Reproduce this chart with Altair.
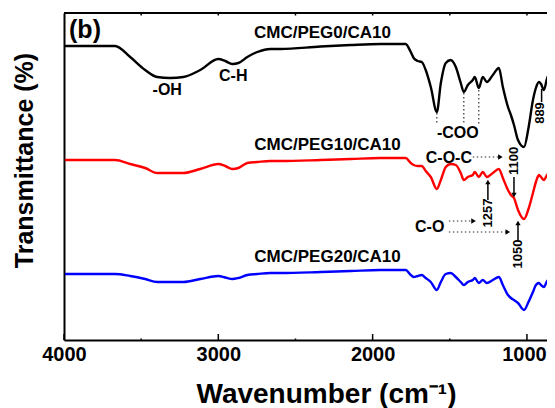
import altair as alt
import pandas as pd

# ---- data ----
wavenumber = [3994, 3669, 3571, 3474, 3396, 3312, 3227, 3117, 3000, 2955, 2909, 2870,
              2812, 2747, 2662, 2597, 2338, 2143, 1948, 1786, 1753, 1734, 1708, 1682,
              1656, 1623, 1584, 1558, 1526, 1494, 1461, 1429, 1409, 1383, 1351, 1338,
              1312, 1286, 1260, 1221, 1182, 1156, 1123, 1104, 1084, 1058, 1019, 990,
              961, 942, 922, 909, 890, 864, 831, 812]
peg0 = [294, 294, 283, 270, 263, 262, 263, 270, 281, 279, 276, 277,
        283, 288, 291, 291, 293.5, 295, 296, 296, 288, 282, 279, 278,
        270, 253, 228, 257, 277, 280, 273, 257, 248, 255, 260, 263,
        252, 263, 258, 265, 272, 253, 233, 225, 215, 200, 193, 212,
        240, 252, 258, 256, 250, 264, 262, 258]
peg10 = [180, 180, 176, 172, 167, 167, 167, 171, 176, 174, 171, 172,
         177, 178, 179, 179, 180, 181, 182, 182, 177, 175, 174, 174,
         169, 163, 151, 160, 173, 176, 175, 167, 160, 163, 165, 168,
         163, 168, 163, 167, 171, 162, 150, 145, 142, 130, 121, 131,
         147, 158, 165, 163, 160, 166, 164, 163]
peg20 = [66, 66, 64, 61, 58, 58, 58, 61, 64, 62.5, 61, 62,
         65, 66, 67, 67, 68, 69, 70, 70, 65, 63, 64, 65,
         62, 58, 50, 58, 66, 67, 63, 58, 55, 58, 60, 62,
         57, 60, 57, 60, 63, 55, 45, 42, 40, 37, 30, 38,
         48, 55, 57, 55, 53, 60, 58, 58]
series_names = ["CMC/PEG0/CA10", "CMC/PEG10/CA10", "CMC/PEG20/CA10"]
series_colors = ["#000000", "#ff0000", "#0000ff"]

curve_label_x = [2325, 2292, 2292]
curve_label_y = [307, 195, 83]

band_text = ["-OH", "C-H", "-COO", "C-O-C", "C-O"]
band_x = [3331, 2903, 1448, 1506, 1630]
band_y = [250, 264, 207, 182, 113]

peak_text = ["889", "1100", "1257", "1050"]
peak_x = [918, 1084, 1253, 1058]
peak_y = [227, 179, 127, 86]

panel_text = ["(b)"]
panel_x = [3864]
panel_y = [310]

dot_x = [1584, 1409, 1312, 1351, 1506, 1506]
dot_x2 = [1584, 1409, 1312, 1178, 1352, 1130]
dot_y = [227, 247, 250, 183, 119, 108]
dot_y2 = [215, 215, 215, 183, 119, 108]

lead_x = [905, 1084, 1253, 1058]
lead_y = [251, 163, 140, 100]
lead_y2 = [238, 146, 158, 117]

head_x = [1172, 1346, 1124, 1084, 1253, 1058]
head_y = [183, 119, 108, 145, 158, 117]
head_shape = ["triangle-right", "triangle-right", "triangle-right",
              "triangle-down", "triangle-up", "triangle-up"]

major_ticks = [4000, 3000, 2000, 1000]
minor_ticks = [3500, 2500, 1500]
top_ticks = [3500, 3000, 2500, 2000, 1500, 1000]

# ---- tables ----
rows = []
for name, vals in zip(series_names, [peg0, peg10, peg20]):
    for w, v in zip(wavenumber, vals):
        rows.append({"wn": w, "T": v, "sample": name})
spectra = pd.DataFrame(rows)

FONT = "Liberation Sans"
XTITLE = "Wavenumber (cm\u207b\u00b9)"
YTITLE = "Transmittance (%)"
X_END = 870
xs = alt.Scale(domain=[4000, X_END], nice=False, zero=False)
ys = alt.Scale(domain=[0, 327], nice=False, zero=False)

x_axis = alt.Axis(values=major_ticks, format="d", grid=False, ticks=False, tickSize=0,
                  domainColor="black", domainWidth=2,
                  labelFont=FONT, labelFontSize=20, labelFontWeight="bold",
                  labelColor="black", labelPadding=4, labelFlush=False,
                  labelOffset=alt.ExprRef("datum.value == 1000 ? -3 : 0"),
                  titleFont=FONT, titleFontSize=28, titleFontWeight="bold",
                  titleColor="black", titleBaseline="alphabetic", titleY=62,
                  titleX=262, titleAnchor="middle", titleAlign="center")
y_axis = alt.Axis(labels=False, ticks=False, grid=False,
                  domainColor="black", domainWidth=2,
                  titleFont=FONT, titleFontSize=25, titleFontWeight="bold",
                  titleColor="black", titleAngle=270, titleBaseline="middle",
                  titleAlign="center", titleX=-40, titleY=147, titleAnchor="middle")


def xq(field):
    return alt.X(f"{field}:Q", scale=xs, axis=x_axis, title=XTITLE)


def yq(field):
    return alt.Y(f"{field}:Q", scale=ys, axis=y_axis, title=YTITLE)


lines = alt.Chart(spectra).mark_line(strokeWidth=2.4, clip=True, interpolate="monotone").encode(
    x=xq("wn"), y=yq("T"),
    color=alt.Color("sample:N", scale=alt.Scale(domain=series_names, range=series_colors),
                    legend=None),
    detail="sample:N",
)

tick_df = pd.DataFrame({"wn": major_ticks + minor_ticks + top_ticks,
                        "y0": [0] * 4 + [0] * 3 + [327] * 6,
                        "y1": [6] * 4 + [1.5] * 3 + [324.5] * 6})
ticks = alt.Chart(tick_df).mark_rule(color="black", strokeWidth=1.5).encode(
    x=xq("wn"), y=yq("y0"), y2="y1")

frame_df = pd.DataFrame({"a": [4000], "b": [X_END], "y": [327]})
top_frame = alt.Chart(frame_df).mark_rule(color="black", strokeWidth=2).encode(
    x=xq("a"), x2="b", y=yq("y"))

curve_lab = alt.Chart(pd.DataFrame({"wn": curve_label_x, "T": curve_label_y, "t": series_names})).mark_text(
    font=FONT, fontSize=17, fontWeight="bold", color="black").encode(
    x=xq("wn"), y=yq("T"), text="t:N")

band_lab = alt.Chart(pd.DataFrame({"wn": band_x, "T": band_y, "t": band_text})).mark_text(
    font=FONT, fontSize=16, fontWeight="bold", color="black").encode(
    x=xq("wn"), y=yq("T"), text="t:N")

peak_lab = alt.Chart(pd.DataFrame({"wn": peak_x, "T": peak_y, "t": peak_text})).mark_text(
    font=FONT, fontSize=13, fontWeight="bold", color="black", angle=270).encode(
    x=xq("wn"), y=yq("T"), text="t:N")

panel_lab = alt.Chart(pd.DataFrame({"wn": panel_x, "T": panel_y, "t": panel_text})).mark_text(
    font=FONT, fontSize=25, fontWeight="bold", color="black").encode(
    x=xq("wn"), y=yq("T"), text="t:N")

dots = alt.Chart(pd.DataFrame({"a": dot_x, "b": dot_x2, "c": dot_y, "d": dot_y2})).mark_rule(
    color="#333333", strokeWidth=1.2, strokeDash=[1.5, 2.5]).encode(
    x=xq("a"), x2="b", y=yq("c"), y2="d")

leads = alt.Chart(pd.DataFrame({"a": lead_x, "c": lead_y, "d": lead_y2})).mark_rule(
    color="black", strokeWidth=1.5).encode(
    x=xq("a"), y=yq("c"), y2="d")

heads = alt.Chart(pd.DataFrame({"a": head_x, "c": head_y, "s": head_shape})).mark_point(
    filled=True, color="black", size=28, opacity=1).encode(
    x=xq("a"), y=yq("c"),
    shape=alt.Shape("s:N", scale=alt.Scale(domain=["triangle-right", "triangle-down", "triangle-up"],
                                           range=["triangle-right", "triangle-down", "triangle-up"]),
                    legend=None))

chart = alt.layer(lines, ticks, top_frame, dots, leads, heads, curve_lab, band_lab,
                  peak_lab, panel_lab).properties(
    width=483, height=327,
    autosize=alt.AutoSizeParams(type="none"),
    padding={"left": 56, "top": 5, "right": 0, "bottom": 68},
).configure_view(stroke=None).configure(background="white")

chart.save("out.html", embed_options={"renderer": "svg", "actions": False})
